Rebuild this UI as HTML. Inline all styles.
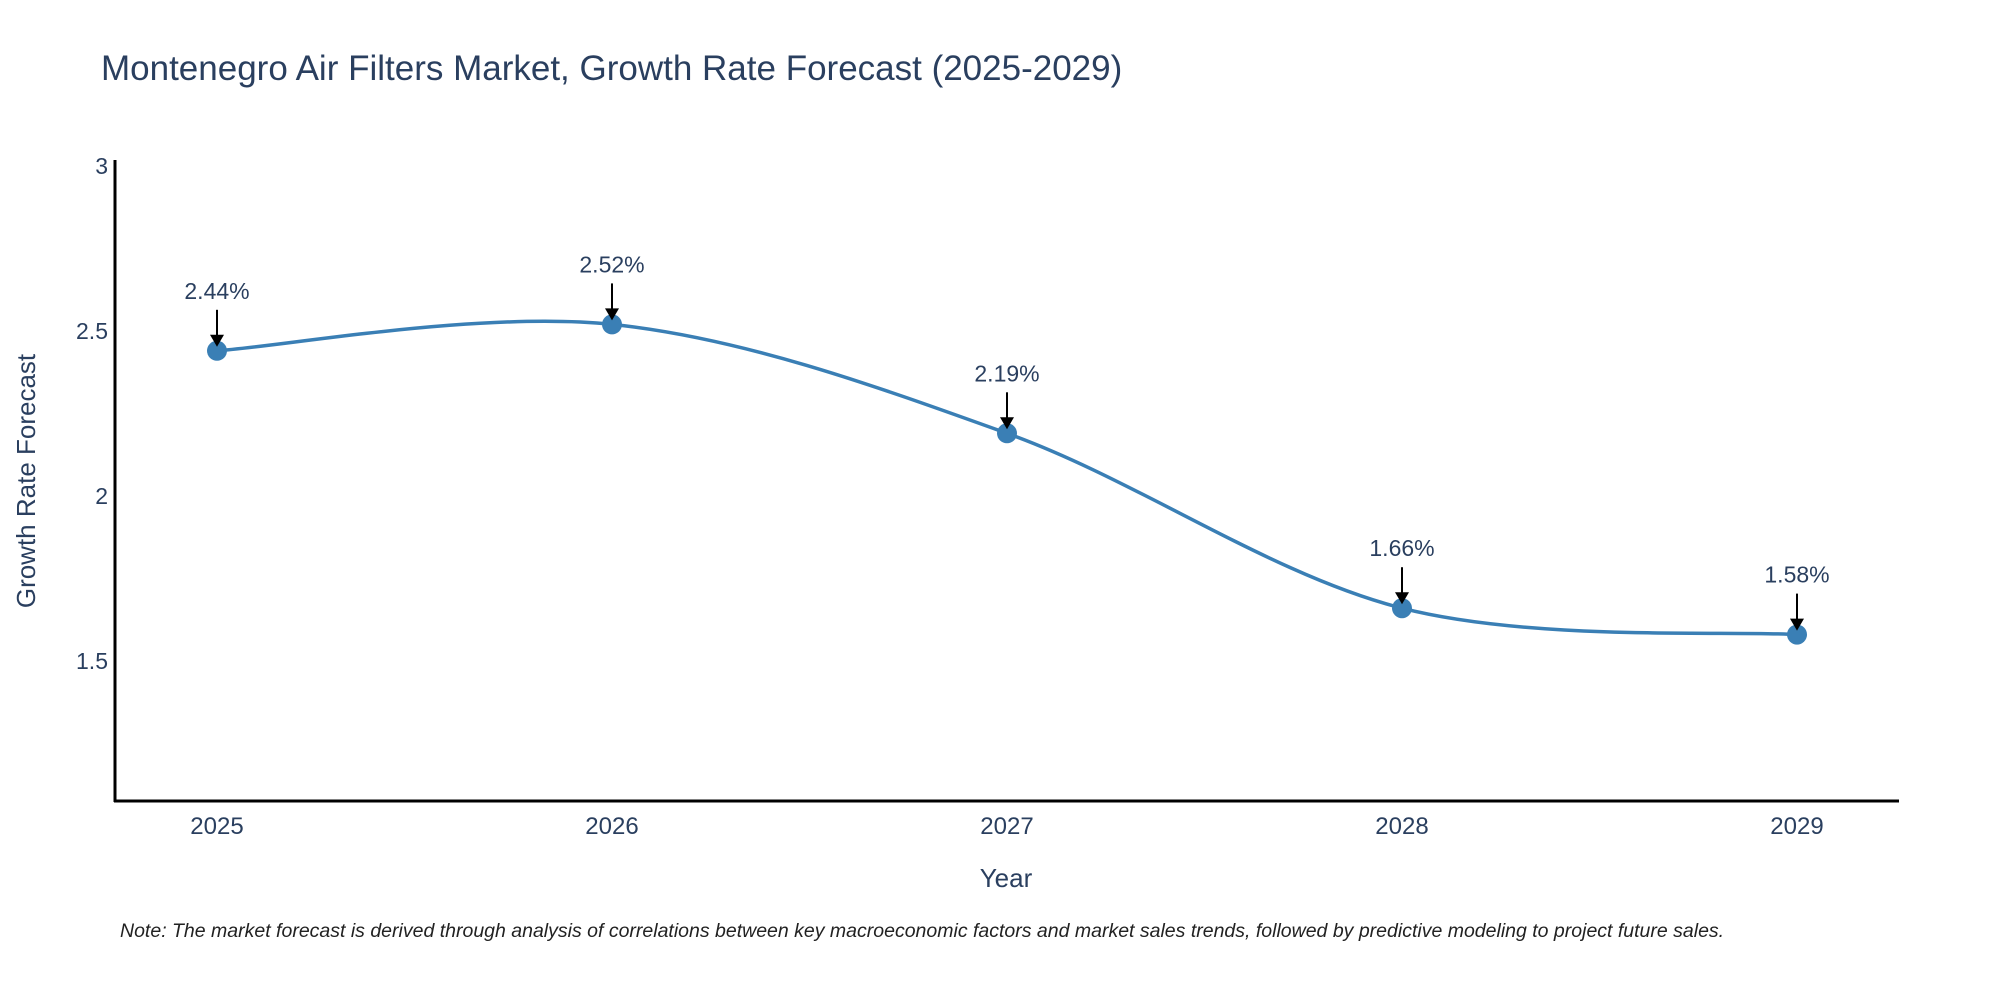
<!DOCTYPE html>
<html><head><meta charset="utf-8"><style>
body{margin:0;background:#fff;}
svg{display:block;font-family:"Liberation Sans",sans-serif;}
</style></head><body>
<svg id="c" width="2000" height="1000" viewBox="0 0 2000 1000">
<text x="101" y="80" font-size="35" fill="#2a3f5f">Montenegro Air Filters Market, Growth Rate Forecast (2025-2029)</text>
<g id="yticks"></g>
<g id="xticks"></g>
<line x1="115" y1="160" x2="115" y2="802" stroke="#000" stroke-width="3"/>
<line x1="114" y1="801" x2="1899" y2="801" stroke="#000" stroke-width="3"/>
<path id="line" fill="none" stroke="#3a7fb5" stroke-width="3.5"/>
<g id="pts"></g>
<g id="ann"></g>
<text x="1006" y="887" font-size="26" fill="#2a3f5f" text-anchor="middle">Year</text>
<text transform="translate(35,481) rotate(-90)" font-size="26" fill="#2a3f5f" text-anchor="middle">Growth Rate Forecast</text>
<text x="120" y="937" font-size="19.5" font-style="italic" fill="#222">Note: The market forecast is derived through analysis of correlations between key macroeconomic factors and market sales trends, followed by predictive modeling to project future sales.</text>
</svg>
<script>
const years=["2025","2026","2027","2028","2029"];
const values=[2.44,2.52,2.19,1.66,1.58];
const yTicks=[1.5,2,2.5,3];
const NS="http://www.w3.org/2000/svg";
function xs(i){return 217+i*(1797-217)/4;}
function ys(v){return 166+(3-v)*330;}
function mk(t,a,p){const e=document.createElementNS(NS,t);for(const k in a)e.setAttribute(k,a[k]);p.appendChild(e);return e;}
const yt=document.getElementById('yticks');
yTicks.forEach(v=>{const t=mk('text',{x:108,y:ys(v)+8,'font-size':23,fill:'#2a3f5f','text-anchor':'end'},yt);


t.textContent=String(v);});
const xt=document.getElementById('xticks');
years.forEach((y,i)=>{const t=mk('text',{x:xs(i),y:834,'font-size':24,fill:'#2a3f5f','text-anchor':'middle'},xt);


t.textContent=y;});
const P=values.map((v,i)=>[xs(i),ys(v)]);
let d="M"+P[0][0]+","+P[0][1];const s=1/6*1.0;
for(let i=0;i<P.length-1;i++){const p0=P[Math.max(0,i-1)],p1=P[i],p2=P[i+1],p3=P[Math.min(P.length-1,i+2)];
const c1=[p1[0]+(p2[0]-p0[0])*s,p1[1]+(p2[1]-p0[1])*s],c2=[p2[0]-(p3[0]-p1[0])*s,p2[1]-(p3[1]-p1[1])*s];
d+=` C${c1[0]},${c1[1]} ${c2[0]},${c2[1]} ${p2[0]},${p2[1]}`;}
document.getElementById('line').setAttribute('d',d);
const pg=document.getElementById('pts'),ag=document.getElementById('ann');
P.forEach((p,i)=>{const c=mk('circle',{cx:p[0],cy:p[1],r:10,fill:'#3a7fb5'},pg);


const l=mk('line',{x1:p[0],y1:p[1]-41,x2:p[0],y2:p[1]-14,stroke:'#000','stroke-width':2},ag);


const h=mk('polygon',{points:`${p[0]-7},${p[1]-16} ${p[0]+7},${p[1]-16} ${p[0]},${p[1]-4}`,fill:'#000'},ag);


const t=mk('text',{x:p[0],y:p[1]-52,'font-size':23,fill:'#2a3f5f','text-anchor':'middle'},ag);


t.textContent=values[i].toFixed(2)+'%';});
</script>
</body></html>
